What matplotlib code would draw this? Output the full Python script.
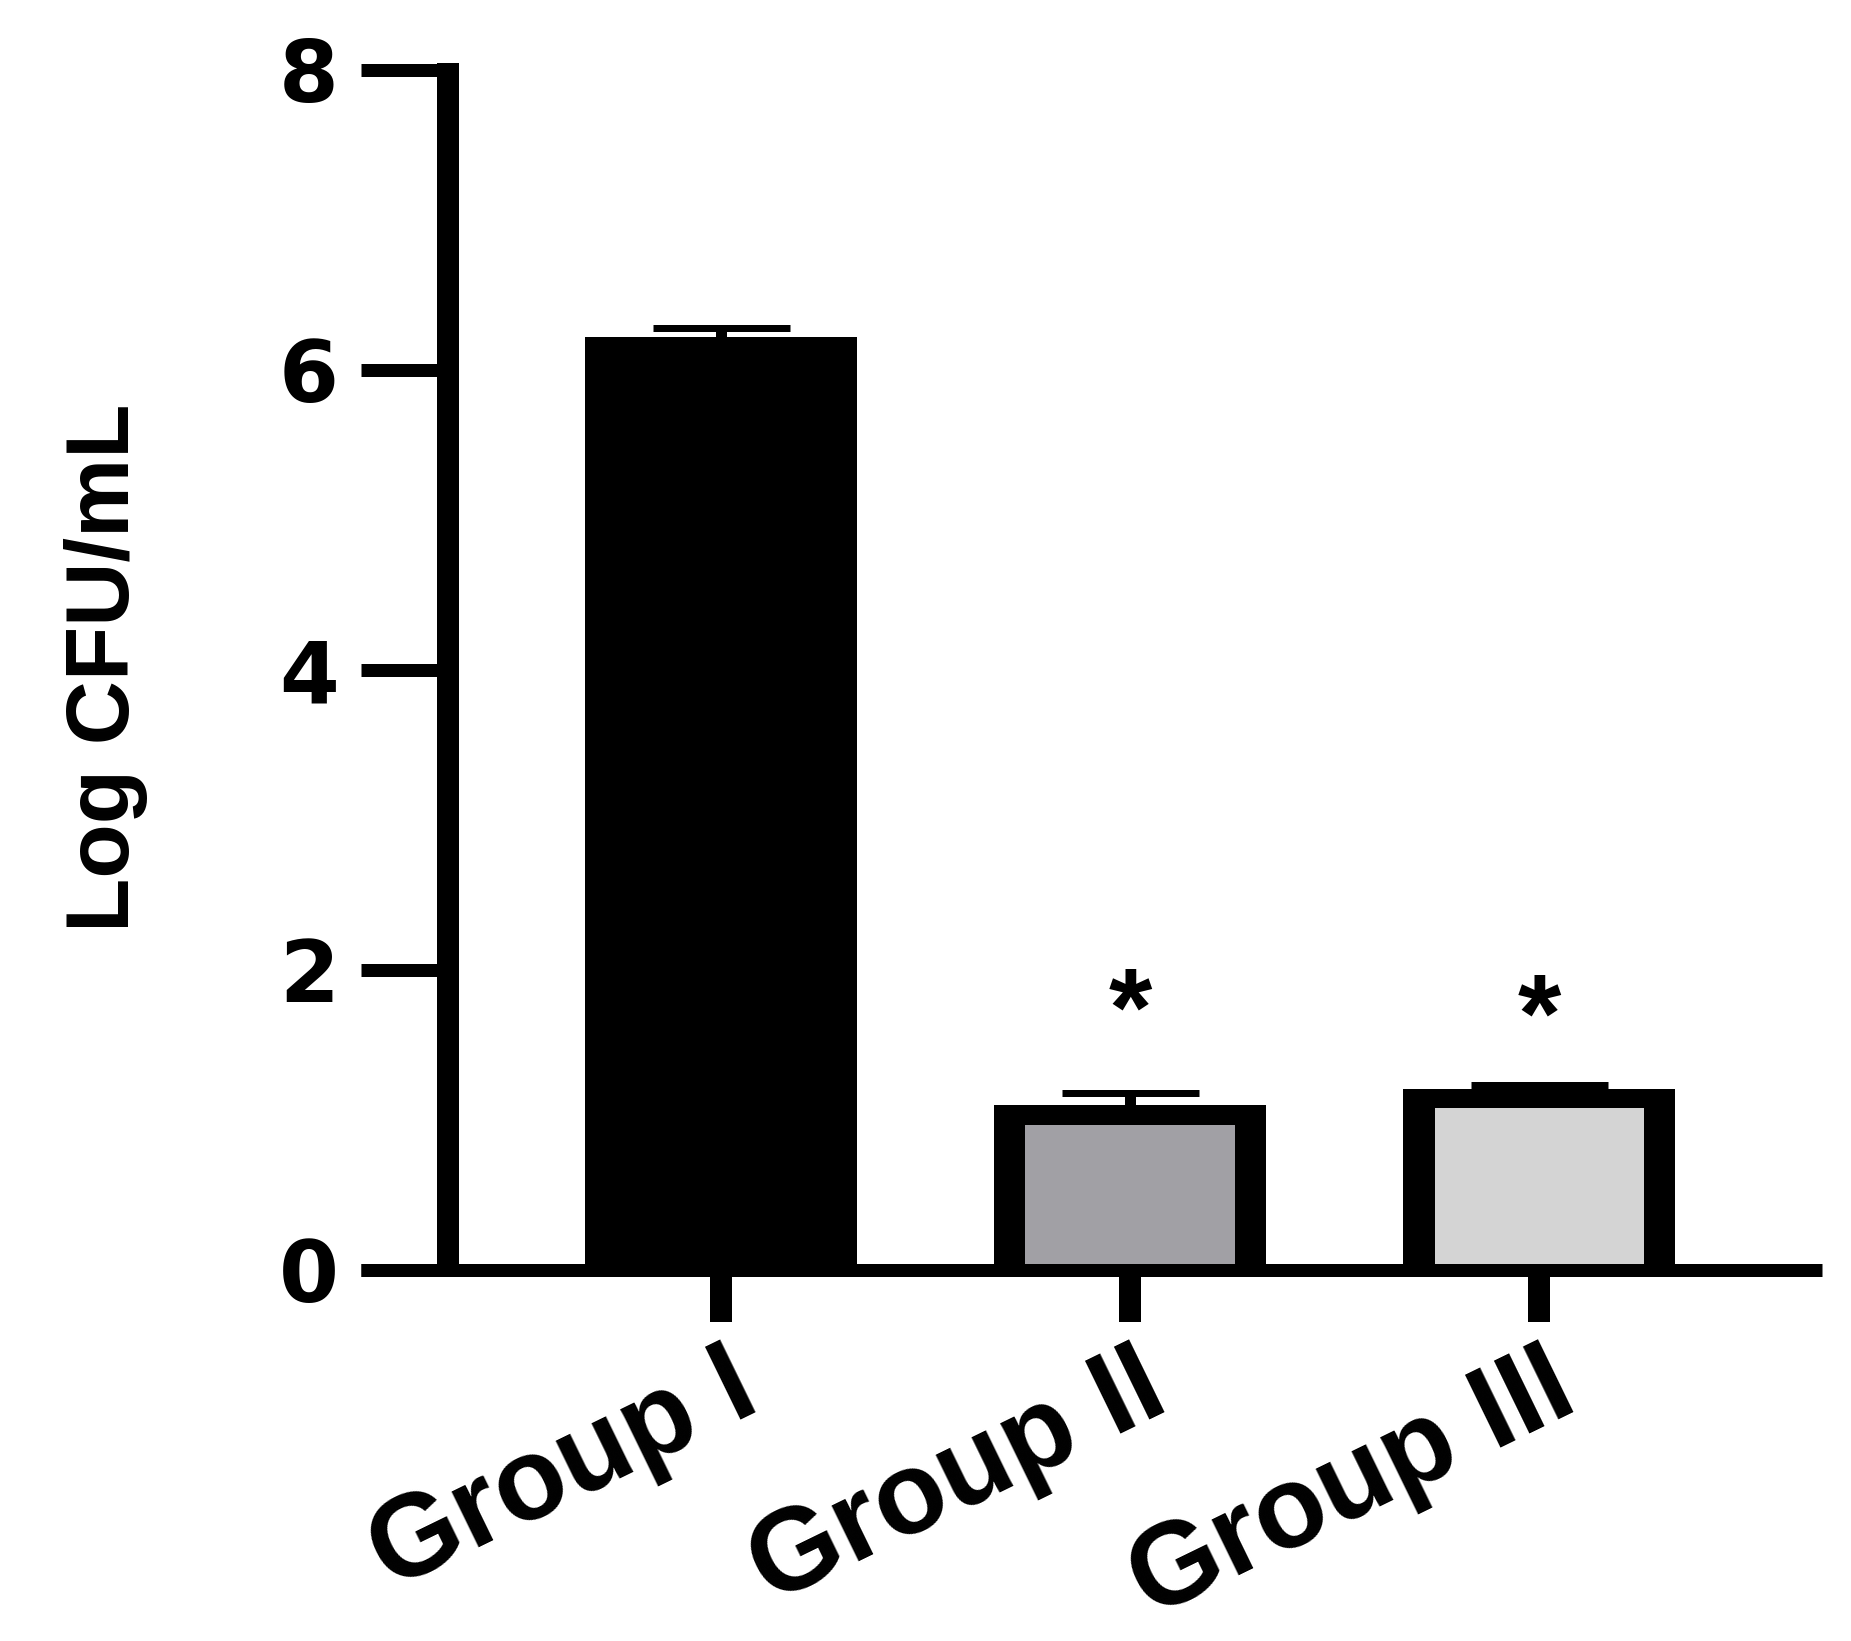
import matplotlib
matplotlib.use("Agg")
import matplotlib.pyplot as plt
from matplotlib.transforms import ScaledTranslation
from matplotlib import font_manager
import numpy as np

# ---------------- data ----------------
categories = ["Group I", "Group II", "Group III"]
means = [6.15, 1.03, 1.14]
sems = [0.13, 0.15, 0.09]
fill_colors = ["#000000", "#A1A0A5", "#D4D4D4"]
yticks = [0, 2, 4, 6, 8]
ytick_labels = ["0", "2", "4", "6", "8"]
star_groups = [1, 2]
star_y = [1.91, 1.87]
ylabel = "Log CFU/mL"

# ---------------- figure ----------------
W, H, DPI = 1851, 1641, 100
PT = 72.0 / DPI  # points per pixel
fig = plt.figure(figsize=(W / DPI, H / DPI), dpi=DPI)
fig.patch.set_facecolor("white")

ax_left, ax_right = 361, 1821.7
ax_top, ax_bottom = 62.0, 1269.5
ax = fig.add_axes([ax_left / W, (H - ax_bottom) / H,
                   (ax_right - ax_left) / W, (ax_bottom - ax_top) / H])
ax.set_xlim(-0.880, 2.691)
ax.set_ylim(0, 8.05)

x = np.arange(len(categories))
m = np.array(means)
s = np.array(sems)

# bar styling (outer black frame + inner fill)
CORE_W = 0.588
EDGE_X = 0.077
EDGE_Y = 0.127
ax.bar(x, m + EDGE_Y / 2, width=CORE_W + EDGE_X, color="black", zorder=1, linewidth=0)
ax.bar(x, m - EDGE_Y / 2, width=CORE_W - EDGE_X, color=fill_colors, zorder=1.1, linewidth=0)

ax.errorbar(x, m, yerr=[np.zeros_like(s), s], fmt="none", ecolor="black",
            elinewidth=11 * PT, capsize=68.5 * PT, capthick=7 * PT, zorder=1.5)

# significance stars
STAR_FS = 80
for gi, sy in zip(star_groups, star_y):
    ax.annotate("*", xy=(x[gi], sy), xytext=(0, -0.56 * STAR_FS), textcoords="offset points",
                ha="center", va="baseline", fontsize=STAR_FS, fontweight="bold",
                family="Liberation Sans")

# spines
for side in ["top", "right"]:
    ax.spines[side].set_visible(False)
ax.spines["left"].set_position(("data", -0.6675))
ax.spines["left"].set_linewidth(22 * PT)
ax.spines["left"].set_bounds(0, 8 + 6.5 / 150)
ax.spines["left"].set_capstyle("butt")
ax.spines["bottom"].set_linewidth(13 * PT)
ax.spines["bottom"].set_capstyle("butt")

# y ticks
ax.set_yticks(yticks)
ax.set_yticklabels(ytick_labels, family="DejaVu Sans", fontweight="bold", fontsize=62)
ax.tick_params(axis="y", direction="out", length=87 * PT, width=13 * PT, pad=22 * PT, color="black")

# x ticks
ax.set_xticks(x)
ax.set_xticklabels(categories, rotation=26, ha="right", va="baseline", rotation_mode="anchor",
                   fontsize=84, fontweight="bold", family="Liberation Sans")
ax.tick_params(axis="x", direction="out", length=51.5 * PT, width=22 * PT, pad=88 * PT, color="black")
offset = ScaledTranslation(42 / DPI, 0, fig.dpi_scale_trans)
for lab in ax.get_xticklabels():
    lab.set_transform(lab.get_transform() + offset)

# y label
names = {f.name for f in font_manager.fontManager.ttflist}
if "Liberation Sans Narrow" in names:
    yl_family, yl_size = "Liberation Sans Narrow", 77
else:
    yl_family, yl_size = "Liberation Sans", 64
ax.set_ylabel(ylabel, family=yl_family, fontweight="bold", fontsize=yl_size, va="center")
ax.yaxis.set_label_coords((106 - ax_left) / (ax_right - ax_left),
                          (ax_bottom - 668) / (ax_bottom - ax_top))

fig.savefig("out.png", dpi=DPI, facecolor="white")
